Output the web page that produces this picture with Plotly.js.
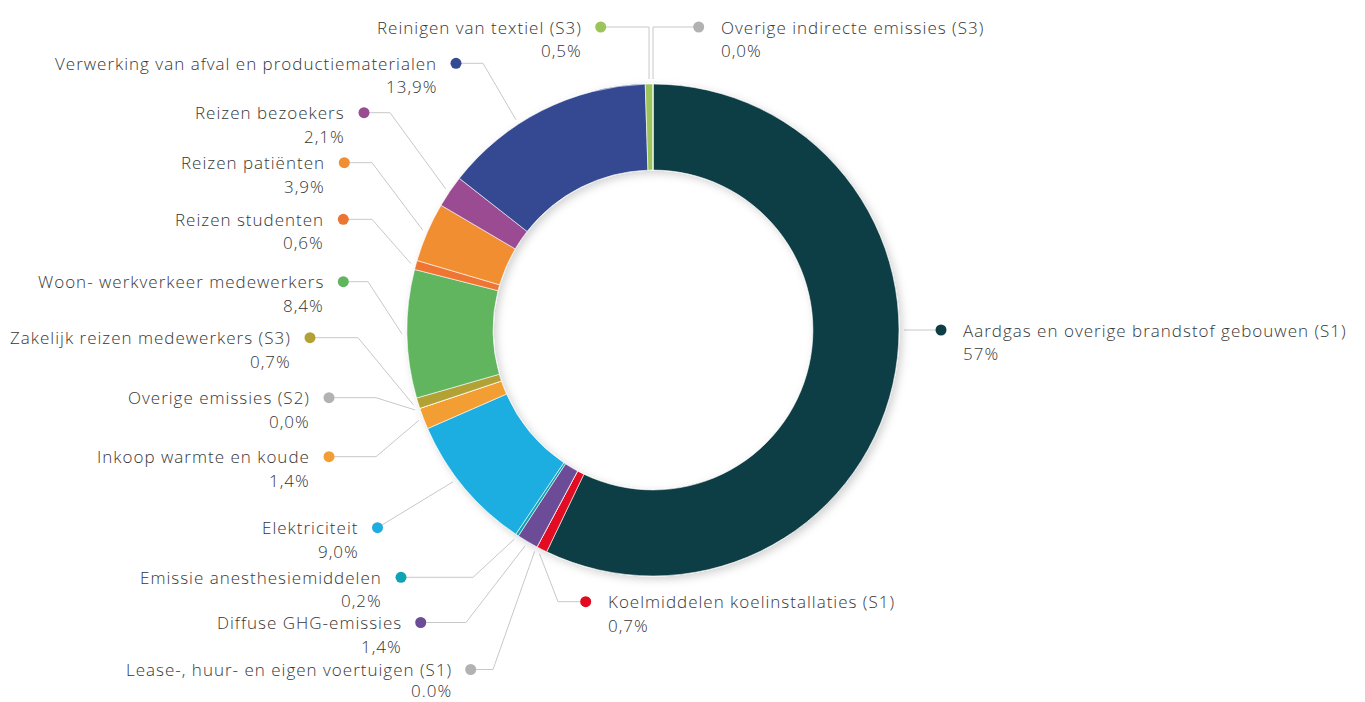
<!DOCTYPE html>
<html>
<head>
<meta charset="utf-8">
<script src="https://cdn.plot.ly/plotly-3.0.1.min.js"></script>
<style>
  html, body { margin: 0; padding: 0; background: #ffffff; }
  #chart { width: 1365px; height: 702px; }
</style>
</head>
<body>
<div id="chart"></div>
<script>
// ---------------- DATA ----------------
const categories = [
  'Aardgas en overige brandstof gebouwen (S1)',
  'Koelmiddelen koelinstallaties (S1)',
  'Lease-, huur- en eigen voertuigen (S1)',
  'Diffuse GHG-emissies',
  'Emissie anesthesiemiddelen',
  'Elektriciteit',
  'Inkoop warmte en koude',
  'Overige emissies (S2)',
  'Zakelijk reizen medewerkers (S3)',
  'Woon- werkverkeer medewerkers',
  'Reizen studenten',
  'Reizen patiënten',
  'Reizen bezoekers',
  'Verwerking van afval en productiematerialen',
  'Reinigen van textiel (S3)',
  'Overige indirecte emissies (S3)'
];
const values = [57, 0.7, 0.0, 1.4, 0.2, 9.0, 1.4, 0.0, 0.7, 8.4, 0.6, 3.9, 2.1, 13.9, 0.5, 0.0];
// percentage labels exactly as printed in the source
const pctLabels = ['57%', '0,7%', '0.0%', '1,4%', '0,2%', '9,0%', '1,4%', '0,0%',
                   '0,7%', '8,4%', '0,6%', '3,9%', '2,1%', '13,9%', '0,5%', '0,0%'];

// ---------------- STYLE ----------------
const colors = ['#0f3d45', '#e20a20', '#b2b2b2', '#6c4b97', '#0fa3b3', '#1eade1', '#f29e32', '#b2b2b2',
                '#b2a236', '#62b55f', '#ee7431', '#f28e32', '#9a4b92', '#344a93', '#9bc55a', '#b2b2b2'];

// label placement (pixel layout): side, dot position, elbow x, optional anchor angle override, optional line gap
const labelLayout = [
  { side: 'R', dx: 941,   dy: 330,   elbow: null, angle: 90 },
  { side: 'R', dx: 585.7, dy: 601.7, elbow: 558 },
  { side: 'L', dx: 470.7, dy: 669.5, elbow: 493, gap: 20.8 },
  { side: 'L', dx: 420.7, dy: 622.5, elbow: 466 },
  { side: 'L', dx: 401,   dy: 577.3, elbow: 473 },
  { side: 'L', dx: 377.5, dy: 527.7, elbow: null, angle: 232.8 },
  { side: 'L', dx: 329,   dy: 456.7, elbow: 376 },
  { side: 'L', dx: 329,   dy: 397.7, elbow: 376 },
  { side: 'L', dx: 310,   dy: 337.7, elbow: 358 },
  { side: 'L', dx: 343.3, dy: 281.7, elbow: 368 },
  { side: 'L', dx: 343.3, dy: 219.3, elbow: 372 },
  { side: 'L', dx: 344.3, dy: 162.7, elbow: 372 },
  { side: 'L', dx: 364,   dy: 112.7, elbow: 390 },
  { side: 'L', dx: 456,   dy: 63.3,  elbow: 483, angle: 326.9 },
  { side: 'L', dx: 600.7, dy: 27,    elbow: 'anchor' },
  { side: 'R', dx: 698.7, dy: 27,    elbow: 'anchor' }
];

const W = 1365, H = 702;
const CX = 653, CY = 330, R = 246, HOLE = 0.65, ANCHOR_R = 251;
const FONT = '"Open Sans", Lato, sans-serif';
const FONT_SIZE = 17;
const LETTER_SPACING = '1px';
const LINE_GAP = 23.5;
const TEXT_COLOR = '#363636';
const LINE_COLOR = '#c8c8c8';

// slice mid-angles (clockwise from 12 o'clock), derived from data
const total = values.reduce((a, b) => a + b, 0);
const midAngles = [];
{
  let cum = 0;
  values.forEach(v => { midAngles.push((cum + v / 2) / total * 360); cum += v; });
}

// ---------------- TRACES ----------------
const pie = {
  type: 'pie',
  labels: categories,
  values: values,
  sort: false,
  direction: 'clockwise',
  rotation: 0,
  hole: HOLE,
  textinfo: 'none',
  hoverinfo: 'none',
  showlegend: false,
  marker: { colors: colors, line: { color: '#ffffff', width: 0.6 } },
  domain: { x: [(CX - R) / W, (CX + R) / W], y: [(H - CY - R) / H, (H - CY + R) / H] }
};

const lineTraces = [];
const annotations = [];
const dotX = [], dotY = [], dotC = [];

categories.forEach((name, i) => {
  const L = labelLayout[i];
  const ang = (L.angle !== undefined ? L.angle : midAngles[i]) * Math.PI / 180;
  const ax = CX + ANCHOR_R * Math.sin(ang);
  const ay = CY - ANCHOR_R * Math.cos(ang);
  let xs, ys;
  if (L.elbow === null) { xs = [L.dx, ax]; ys = [L.dy, ay]; }
  else if (L.elbow === 'anchor') { xs = [L.dx, ax, ax]; ys = [L.dy, L.dy, ay]; }
  else { xs = [L.dx, L.elbow, ax]; ys = [L.dy, L.dy, ay]; }
  lineTraces.push({
    type: 'scatter', mode: 'lines', x: xs, y: ys,
    line: { color: LINE_COLOR, width: 1 }, hoverinfo: 'skip', showlegend: false
  });
  dotX.push(L.dx); dotY.push(L.dy); dotC.push(colors[i]);

  const tx = L.side === 'L' ? L.dx - 17 : L.dx + 20;
  const xanchor = L.side === 'L' ? 'right' : 'left';
  const base = { xref: 'x', yref: 'y', x: tx, xanchor: xanchor, yanchor: 'middle', showarrow: false,
                 align: L.side === 'L' ? 'right' : 'left',
                 font: { family: FONT, size: FONT_SIZE, color: TEXT_COLOR, weight: 300 } };
  annotations.push(Object.assign({}, base, { y: L.dy, text: name }));
  annotations.push(Object.assign({}, base, { y: L.dy + (L.gap || LINE_GAP), text: pctLabels[i] }));
});

const dots = {
  type: 'scatter', mode: 'markers', x: dotX, y: dotY,
  marker: { color: dotC, size: 11, line: { width: 0 } },
  hoverinfo: 'skip', showlegend: false
};

const layout = {
  width: W, height: H,
  margin: { l: 0, r: 0, t: 0, b: 0 },
  paper_bgcolor: '#ffffff', plot_bgcolor: 'rgba(0,0,0,0)',
  xaxis: { range: [0, W], visible: false, fixedrange: true },
  yaxis: { range: [H, 0], visible: false, fixedrange: true },
  annotations: annotations,
  showlegend: false,
  hovermode: false
};

Plotly.newPlot('chart', lineTraces.concat([dots, pie]), layout, { staticPlot: true, displayModeBar: false })
  .then(gd => {
    // wider letter spacing to match the source typeface
    gd.querySelectorAll('.annotation-text').forEach(t => { t.style.letterSpacing = LETTER_SPACING; });
    // soft drop shadow around the ring
    const svg = gd.querySelector('svg.main-svg');
    const ns = 'http://www.w3.org/2000/svg';
    let defs = svg.querySelector('defs');
    if (!defs) { defs = document.createElementNS(ns, 'defs'); svg.insertBefore(defs, svg.firstChild); }
    const f = document.createElementNS(ns, 'filter');
    f.setAttribute('id', 'ringShadow');
    f.setAttribute('x', '-10%'); f.setAttribute('y', '-10%');
    f.setAttribute('width', '120%'); f.setAttribute('height', '120%');
    const ds = document.createElementNS(ns, 'feDropShadow');
    ds.setAttribute('dx', '3'); ds.setAttribute('dy', '3');
    ds.setAttribute('stdDeviation', '4');
    ds.setAttribute('flood-color', '#000'); ds.setAttribute('flood-opacity', '0.18');
    f.appendChild(ds); defs.appendChild(f);
    const pieTrace = gd.querySelector('.pielayer .trace');
    if (pieTrace) pieTrace.setAttribute('filter', 'url(#ringShadow)');
  });
</script>
</body>
</html>
